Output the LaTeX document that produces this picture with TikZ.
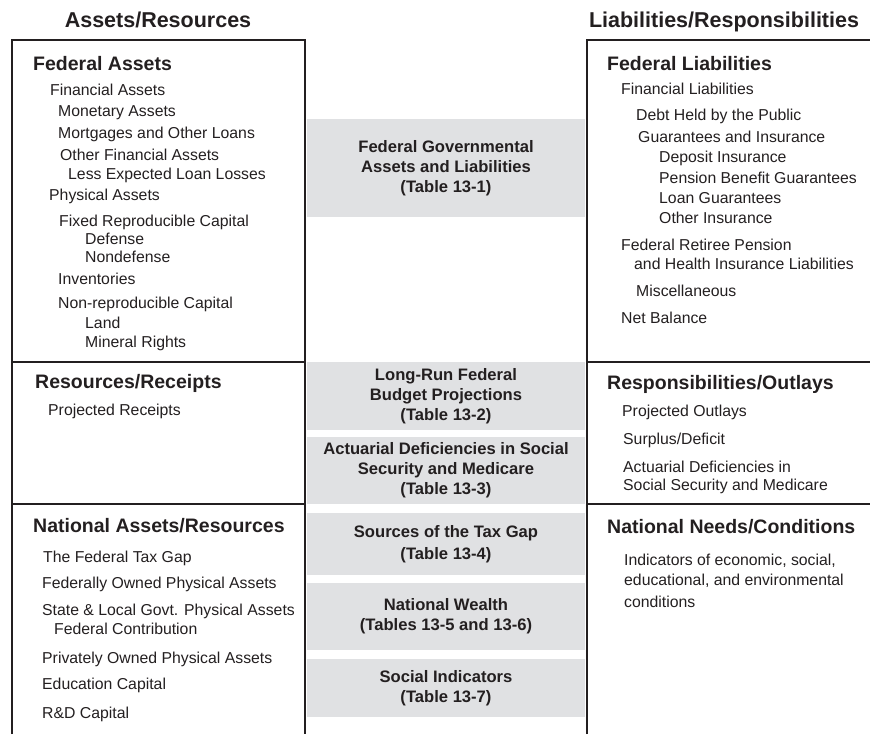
\documentclass[tikz,border=0pt]{standalone}
\usepackage{fontspec}
\setmainfont{Liberation Sans}
\definecolor{ink}{RGB}{35,31,32}
\definecolor{boxgray}{RGB}{224,225,227}
\tikzset{
  frame/.style={draw=ink, line width=2pt},
  hd/.style={font=\fontsize{21.5}{24}\selectfont\bfseries, text=ink, anchor=base, inner sep=0},
  ttl/.style={font=\fontsize{19.5}{22}\selectfont\bfseries, text=ink, anchor=base west, inner sep=0},
  itm/.style={font=\fontsize{15.8}{18}\selectfont, text=ink, anchor=base west, inner sep=0},
  tbl/.style={fill=boxgray, minimum width=278pt, align=center, inner sep=0,
    font=\fontsize{16.6}{20}\selectfont\bfseries, text=ink}
}
\begin{document}
\begin{tikzpicture}[x=1pt,y=-1pt]
\useasboundingbox (0,0) rectangle (870,734);
% column heads
\node[hd] (assets) at (158,27) {Assets/Resources};
\node[hd] (liab) at (724,27) {Liabilities/Responsibilities};
% frames
\draw[frame] (12,734) -- (12,40) -- (305,40) -- (305,734);
\draw[frame] (587,734) -- (587,40) -- (870,40);
\foreach \y in {362,503.5} \draw[frame] (12,\y) -- (305,\y) (587,\y) -- (870,\y);
% gray tables in the middle
\node[tbl, minimum height=98pt] (tab1) at (446,168) {Federal Governmental\\Assets and Liabilities\\(Table 13-1)};
\node[tbl, minimum height=68pt] (tab2) at (446,396) {Long-Run Federal\\Budget Projections\\(Table 13-2)};
\node[tbl, minimum height=67pt] (tab3) at (446,470.5) {Actuarial Deficiencies in Social\\Security and Medicare\\(Table 13-3)};
\node[tbl, minimum height=62pt] (tab4) at (446,544) {Sources of the Tax Gap\\[2pt](Table 13-4)};
\node[tbl, minimum height=67pt] (tab5) at (446,616.5) {National Wealth\\(Tables 13-5 and 13-6)};
\node[tbl, minimum height=58pt] (tab6) at (446,688) {Social Indicators\\(Table 13-7)};
% left column
\node[ttl] (fedA) at (33,70) {Federal Assets};
\foreach \x/\y/\t [count=\i] in {50/95/Financial Assets, 58/116/Monetary Assets,
  58/138/Mortgages and Other Loans, 60/160/Other Financial Assets,
  68/179/Less Expected Loan Losses, 49/200/Physical Assets,
  59/226/Fixed Reproducible Capital, 85/244/Defense, 85/262/Nondefense,
  58/284/Inventories, 58/308/Non-reproducible Capital, 85/328/Land, 85/347/Mineral Rights}
  \node[itm] (fa\i) at (\x,\y) {\t};
\node[ttl] (resR) at (35,388) {Resources/Receipts};
\node[itm] (rr1) at (48,415) {Projected Receipts};
\node[ttl] (natA) at (33,532) {National Assets/Resources};
\foreach \x/\y/\t [count=\i] in {43/562/The Federal Tax Gap, 42/588/Federally Owned Physical Assets,
  42/615/State \& Local Govt. Physical Assets, 54/634/Federal Contribution,
  42/663/Privately Owned Physical Assets, 42/689/Education Capital, 42/718/R\&D Capital}
  \node[itm] (na\i) at (\x,\y) {\t};
% right column
\node[ttl] (fedL) at (607,70) {Federal Liabilities};
\foreach \x/\y/\t [count=\i] in {621/94/Financial Liabilities, 636/120/Debt Held by the Public,
  638/142/Guarantees and Insurance, 659/162/Deposit Insurance,
  659/183/Pension Benefit Guarantees, 659/203/Loan Guarantees, 659/223/Other Insurance,
  621/250/Federal Retiree Pension, 634/269/and Health Insurance Liabilities,
  636/296/Miscellaneous, 621/323/Net Balance}
  \node[itm] (fl\i) at (\x,\y) {\t};
\node[ttl] (respO) at (607,389) {Responsibilities/Outlays};
\foreach \x/\y/\t [count=\i] in {622/416/Projected Outlays, 623/444/{Surplus/Deficit},
  623/472/Actuarial Deficiencies in, 623/490/Social Security and Medicare}
  \node[itm] (ro\i) at (\x,\y) {\t};
\node[ttl] (natN) at (607,533) {National Needs/Conditions};
\foreach \x/\y/\t [count=\i] in {624/565/{Indicators of economic, social,},
  624/585/{educational, and environmental}, 624/607/conditions}
  \node[itm] (nn\i) at (\x,\y) {\t};
\end{tikzpicture}
\end{document}
